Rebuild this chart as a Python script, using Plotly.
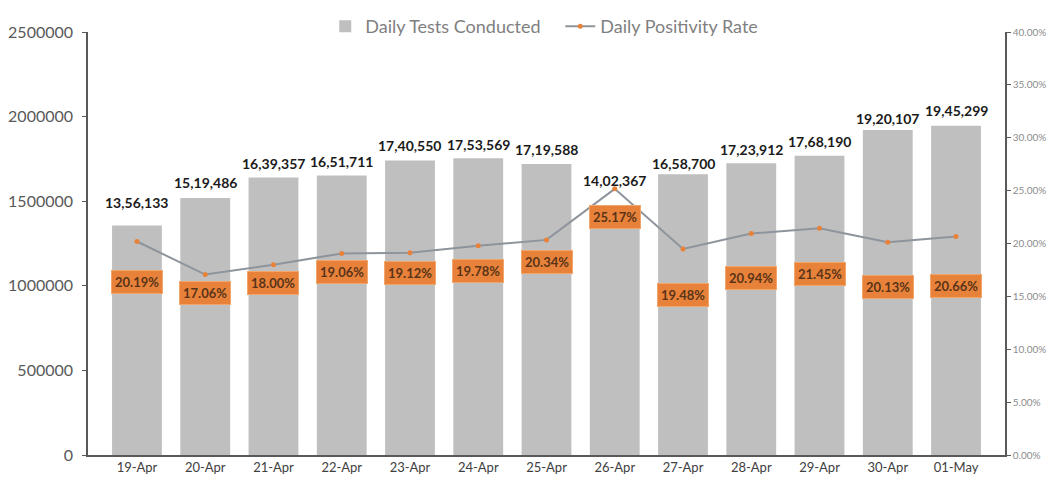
import plotly.graph_objects as go

dates = ["19-Apr", "20-Apr", "21-Apr", "22-Apr", "23-Apr", "24-Apr", "25-Apr",
         "26-Apr", "27-Apr", "28-Apr", "29-Apr", "30-Apr", "01-May"]
tests = [1356133, 1519486, 1639357, 1651711, 1740550, 1753569, 1719588,
         1402367, 1658700, 1723912, 1768190, 1920107, 1945299]
positivity = [0.2019, 0.1706, 0.1800, 0.1906, 0.1912, 0.1978, 0.2034,
              0.2517, 0.1948, 0.2094, 0.2145, 0.2013, 0.2066]

# label offsets in pixels (style)
test_label_shift = [23, 15, 14, 14, 15, 14, 15, 37, 11, 14, 14, 12, 15]
pos_label_shift = [-41, -18, -18, -19, -20, -25, -22, -28, -46, -44, -46, -45, -49]


def indian(n):
    s = str(n)
    last3 = s[-3:]
    rest = s[:-3]
    parts = []
    while len(rest) > 2:
        parts.insert(0, rest[-2:])
        rest = rest[:-2]
    if rest:
        parts.insert(0, rest)
    return ",".join(parts + [last3])


FONT = "Lato"

fig = go.Figure()
fig.add_trace(go.Bar(
    x=dates, y=tests, name="Daily Tests Conducted",
    marker=dict(color="#BFBFBF", line=dict(width=0)),
))
fig.add_trace(go.Scatter(
    x=dates, y=positivity, name="Daily Positivity Rate", yaxis="y2",
    mode="lines+markers",
    line=dict(color="#8E949C", width=2),
    marker=dict(color="#E8823A", size=5),
))

ann = []
for d, t, s in zip(dates, tests, test_label_shift):
    ann.append(dict(x=d, y=t, xref="x", yref="y", text="<b>" + indian(t) + "</b>",
                    showarrow=False, yshift=s, font=dict(family=FONT, size=14, color="#1a1a1a")))
for d, p, s in zip(dates, positivity, pos_label_shift):
    ann.append(dict(x=d, y=p, xref="x", yref="y2", text="<b>%.2f%%</b>" % (p * 100),
                    showarrow=False, yshift=s, bgcolor="#E8823A", bordercolor="#F3A66B",
                    borderwidth=1, borderpad=3,
                    font=dict(family=FONT, size=13, color="#5A3418")))

fig.update_layout(
    width=1054, height=478,
    margin=dict(l=80, r=57, t=24, b=31, autoexpand=False),
    plot_bgcolor="white", paper_bgcolor="white",
    bargap=0.27,
    font=dict(family=FONT, color="#595959"),
    legend=dict(orientation="h", x=0.515, xanchor="center", xref="paper",
                yref="container", y=1.0, yanchor="top", entrywidth=190,
                bgcolor="rgba(0,0,0,0)",
                font=dict(family=FONT, size=18, color="#7F7F7F"), traceorder="normal"),
    xaxis=dict(showline=True, linecolor="#595959", linewidth=1.5, ticks="",
               tickfont=dict(family=FONT, size=13, color="#404040"), showgrid=False,
               automargin=False),
    yaxis=dict(range=[0, 2500000], dtick=500000, tickformat="d", showgrid=False,
               showline=True, linecolor="#595959", linewidth=1.5, ticks="outside",
               ticklen=4, tickcolor="#595959", automargin=False, ticklabelstandoff=6,
               tickfont=dict(family=FONT, size=16, color="#595959"), zeroline=False),
    yaxis2=dict(range=[0, 0.40], dtick=0.05, tickformat=".2%", overlaying="y",
                side="right", showgrid=False, showline=True, linecolor="#595959",
                linewidth=1.5, ticks="outside", ticklen=4, tickcolor="#595959",
                automargin=False,
                tickfont=dict(family=FONT, size=10, color="#8C8C8C"), zeroline=False),
    annotations=ann,
)

fig.write_html("out.html")
